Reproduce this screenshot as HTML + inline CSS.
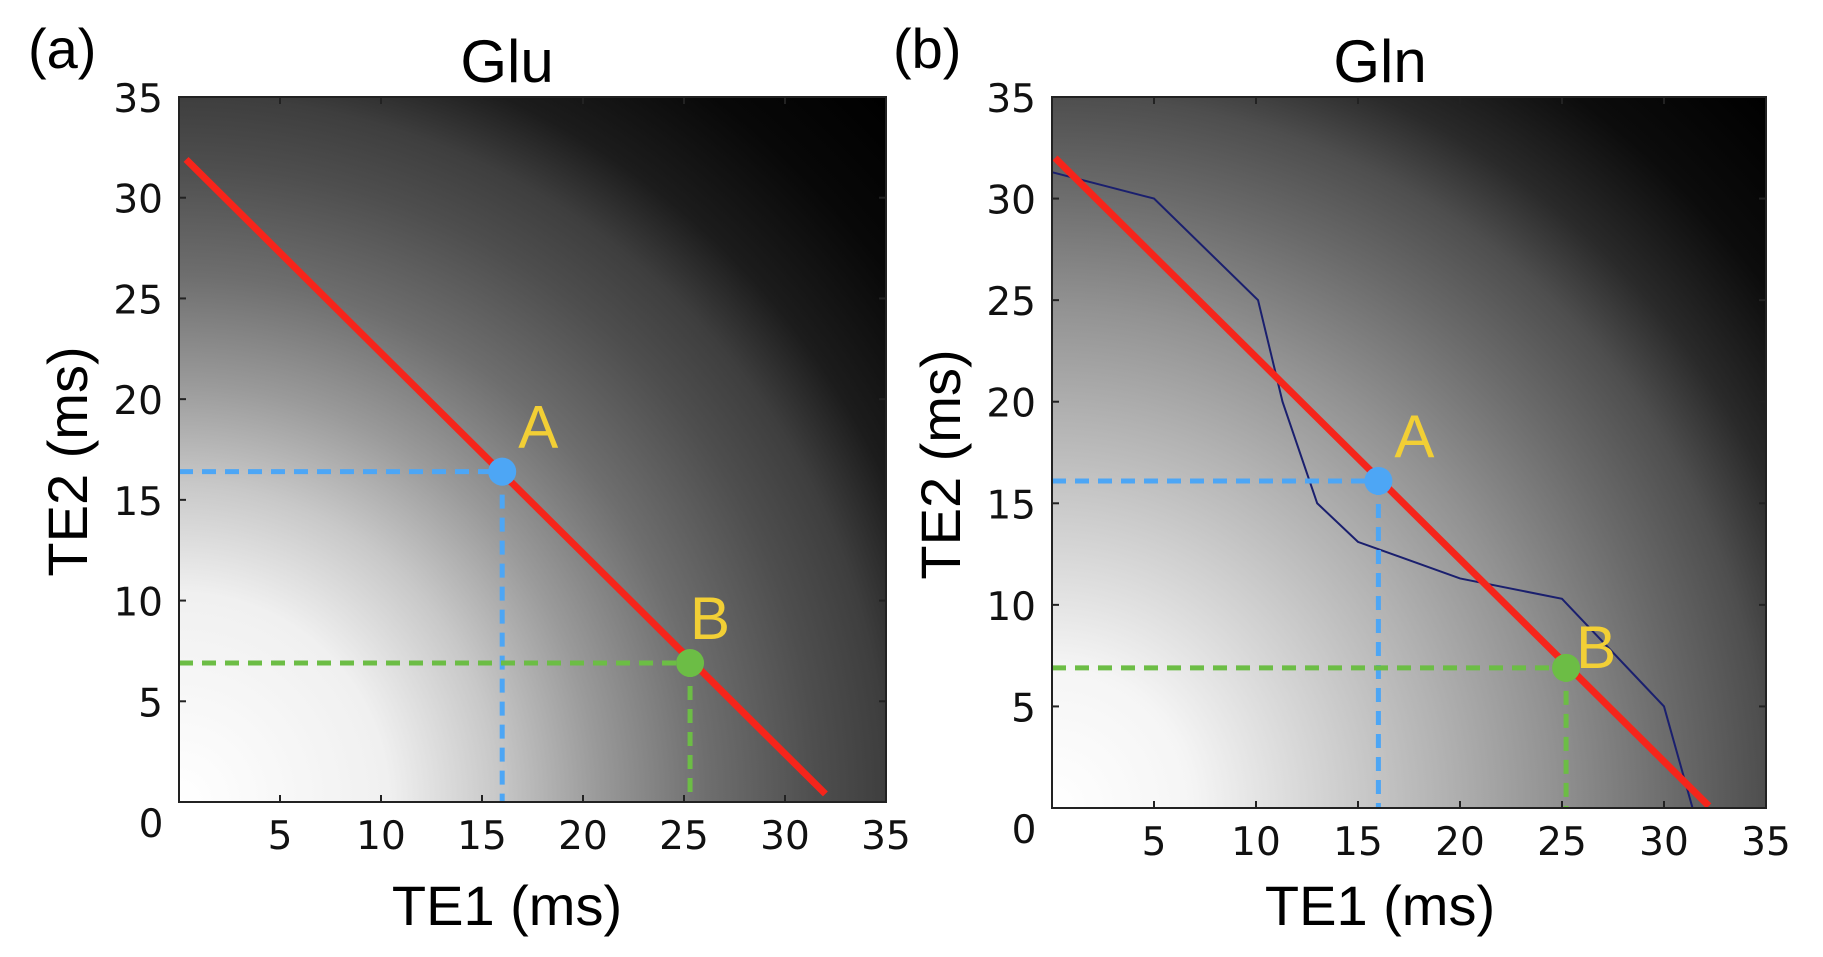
<!DOCTYPE html>
<html><head><meta charset="utf-8"><style>
html,body{margin:0;padding:0;background:#fff;}
svg{display:block;}
.tick{font-family:"DejaVu Sans","Liberation Sans",sans-serif;font-size:39px;fill:#111;}
.ttl{font-family:"Liberation Sans",sans-serif;fill:#000;}
</style></head><body>
<svg id="fig" width="1823" height="957" viewBox="0 0 1823 957" xmlns="http://www.w3.org/2000/svg">
<defs>
<radialGradient id="gA" gradientUnits="objectBoundingBox" cx="0" cy="1" r="1.41" fx="0" fy="1">
<stop offset="0" stop-color="#fff"/><stop offset="0.21" stop-color="#f0f0f0"/><stop offset="0.32" stop-color="#c8c8c8"/><stop offset="0.42" stop-color="#9a9a9a"/><stop offset="0.53" stop-color="#6e6e6e"/><stop offset="0.64" stop-color="#4e4e4e"/><stop offset="0.71" stop-color="#3e3e3e"/><stop offset="0.78" stop-color="#1c1c1c"/><stop offset="0.89" stop-color="#080808"/><stop offset="1" stop-color="#000"/>
</radialGradient>
<radialGradient id="gB" gradientUnits="objectBoundingBox" cx="0" cy="1" r="1.41" fx="0" fy="1">
<stop offset="0" stop-color="#fff"/><stop offset="0.14" stop-color="#f5f5f5"/><stop offset="0.28" stop-color="#d0d0d0"/><stop offset="0.39" stop-color="#b2b2b2"/><stop offset="0.5" stop-color="#929292"/><stop offset="0.62" stop-color="#6a6a6a"/><stop offset="0.71" stop-color="#4e4e4e"/><stop offset="0.78" stop-color="#2a2a2a"/><stop offset="0.88" stop-color="#0c0c0c"/><stop offset="1" stop-color="#000"/>
</radialGradient>
</defs>
</svg>
<script>
const xTicks=[5,10,15,20,25,30,35];
const yTicks=[5,10,15,20,25,30,35];
const titles=["Glu","Gln"];
const panelLabels=["(a)","(b)"];
const redLineA=[[0.35,31.9],[32.0,0.4]];
const redLineB=[[0.15,32.0],[32.2,0.1]];
const pointA_a=[16.0,16.4];
const pointB_a=[25.3,6.9];
const pointA_b=[16.0,16.1];
const pointB_b=[25.2,6.9];
const contourX=[0,5,10.1,11.3,13,15,20,25,30,31.4];
const contourY=[31.3,30,25,20,15,13.1,11.3,10.3,5,0];

const NS="http://www.w3.org/2000/svg";
const svg=document.getElementById('fig');
function mk(tag,attrs,parent){const e=document.createElementNS(NS,tag);for(const k in attrs)e.setAttribute(k,attrs[k]);(parent||svg).appendChild(e);return e;}

function panel(cfg){
  const g=mk('g',{});
  
  
  const L=cfg.left,R=cfg.right,T=cfg.top,B=cfg.bottom;
  const sx=v=>L+(R-L)*v/35, sy=v=>B-(B-T)*v/35;
  const bg=mk('rect',{x:L,y:T,width:R-L,height:B-T,fill:cfg.grad},g);
  
  
  if(cfg.contour){
    const pts=contourX.map((x,i)=>sx(x)+','+sy(contourY[i])).join(' ');
    const c=mk('polyline',{points:pts,fill:'none',stroke:'#1a1f6e','stroke-width':2},g);
    
    
  }
  const guides=[[cfg.A,'#4da6f5'],[cfg.Bp,'#6cbd45']];
  guides.forEach(([p,col],i)=>{
    const h=mk('line',{x1:sx(0),y1:sy(p[1]),x2:sx(p[0]),y2:sy(p[1]),stroke:col,'stroke-width':5,'stroke-dasharray':'14 9'},g);
    
    
    const v=mk('line',{x1:sx(p[0]),y1:sy(p[1]),x2:sx(p[0]),y2:sy(0),stroke:col,'stroke-width':5,'stroke-dasharray':'14 9'},g);
    
    
  });
  const rl=mk('line',{x1:sx(cfg.red[0][0]),y1:sy(cfg.red[0][1]),x2:sx(cfg.red[1][0]),y2:sy(cfg.red[1][1]),stroke:'#f5251b','stroke-width':7},g);
  
  
  const fr=mk('rect',{x:L,y:T,width:R-L,height:B-T,fill:'none',stroke:'#222','stroke-width':2},g);
  
  
  xTicks.forEach(t=>{
    mk('line',{x1:sx(t),y1:B,x2:sx(t),y2:B-7,stroke:'#222','stroke-width':2},g);
    mk('line',{x1:sx(t),y1:T,x2:sx(t),y2:T+7,stroke:'#222','stroke-width':2},g);
    const tx=mk('text',{x:sx(t),y:B+47,'text-anchor':'middle',class:'tick'},g);
    tx.textContent=t;
    
    
  });
  yTicks.forEach(t=>{
    mk('line',{x1:L,y1:sy(t),x2:L+7,y2:sy(t),stroke:'#222','stroke-width':2},g);
    mk('line',{x1:R,y1:sy(t),x2:R-7,y2:sy(t),stroke:'#222','stroke-width':2},g);
    const ty=mk('text',{x:L-16,y:sy(t)+15,'text-anchor':'end',class:'tick'},g);
    ty.textContent=t;
    
    
  });
  const z=mk('text',{x:L-28,y:B+35,'text-anchor':'middle',class:'tick'},g);
  z.textContent='0';
  
  
  [[cfg.A,'#4da6f5','A',[16,-24]],[cfg.Bp,'#6cbd45','B',cfg.bOff]].forEach(([p,col,lab,off])=>{
    const c=mk('circle',{cx:sx(p[0]),cy:sy(p[1]),r:14,fill:col},g);
    
    
    const t=mk('text',{x:sx(p[0])+off[0],y:sy(p[1])+off[1],class:'ttl','font-size':60,style:'fill:#f2cf35'},g);
    t.textContent=lab;
    
    
  });
  const ti=mk('text',{x:cfg.cx,y:82,'text-anchor':'middle',class:'ttl','font-size':60},g);
  ti.textContent=cfg.title;
  
  
  const xl=mk('text',{x:cfg.cx,y:925,'text-anchor':'middle',class:'ttl','font-size':56},g);
  xl.textContent='TE1 (ms)';
  
  
  const yx=cfg.left-92, yy=(T+B)/2+12;
  const yl=mk('text',{x:yx,y:yy,'text-anchor':'middle',class:'ttl','font-size':56,transform:'rotate(-90 '+yx+' '+yy+')'},g);
  yl.textContent='TE2 (ms)';
  
  
  const pl=mk('text',{x:cfg.plx,y:68,class:'ttl','font-size':56},g);
  pl.textContent=cfg.pl;
  
  
}
panel({name:'panel-a-glu',left:179,right:886,top:97,bottom:802,cx:507,grad:'url(#gA)',red:redLineA,A:pointA_a,Bp:pointB_a,bOff:[0,-24],title:titles[0],pl:panelLabels[0],plx:28,contour:false});
panel({name:'panel-b-gln',left:1052,right:1766,top:97,bottom:808,cx:1380,grad:'url(#gB)',red:redLineB,A:pointA_b,Bp:pointB_b,bOff:[10,0],title:titles[1],pl:panelLabels[1],plx:893,contour:true});
</script>
</body></html>
